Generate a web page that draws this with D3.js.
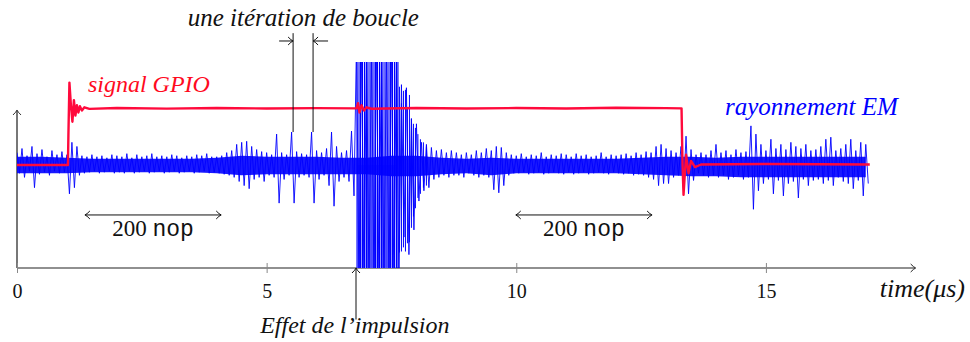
<!DOCTYPE html>
<html>
<head>
<meta charset="utf-8">
<script src="https://cdn.jsdelivr.net/npm/d3@7"></script>
<style>
  html, body { margin: 0; padding: 0; background: #fff; }
  svg { display: block; }
</style>
</head>
<body>
<div id="chart"></div>
<script>
// EM radiation trace, sampled every 0.1 us: upper peak then lower peak (arbitrary units)
const emStep = 0.1;
const emHi = [
  12, 16, 9, 18, 11, 15, 8, 14, 10, 13,
  10, 22, 18, 9, 8, 10, 8, 9, 7, 10,
  9, 8, 11, 7, 10, 8, 9, 11, 8, 9,
  8, 10, 9, 7, 9, 8, 10, 9, 11, 8,
  8, 9, 12, 14, 20, 22, 23, 18, 15, 13,
  12, 10, 30, 12, 10, 32, 13, 11, 10, 32,
  14, 12, 16, 32, 18, 12, 14, 33, 120, 120,
  120, 120, 120, 120, 120, 120, 120, 78, 75, 45,
  40, 22, 20, 17, 14, 15, 12, 14, 12, 10,
  12, 10, 14, 12, 16, 14, 18, 17, 12, 10,
  9, 11, 8, 10, 9, 12, 8, 10, 9, 11,
  10, 8, 11, 9, 10, 8, 9, 12, 8, 10,
  9, 10, 11, 9, 12, 10, 13, 12, 18, 20,
  16, 14, 12, 18, 28, 15, 10, 12, 10, 14,
  20, 12, 14, 10, 15, 12, 13, 38, 30, 20,
  14, 25, 16, 20, 15, 22, 18, 16, 20, 14,
  15, 18, 25, 27, 14, 16, 20, 25, 14, 22,
  20
];
const emLo = [
  -8, -12, -6, -22, -9, -7, -10, -6, -8, -7,
  -28, -22, -10, -8, -7, -6, -8, -7, -6, -8,
  -7, -8, -6, -8, -7, -6, -8, -7, -6, -8,
  -7, -6, -8, -7, -6, -8, -7, -6, -8, -7,
  -8, -9, -10, -12, -16, -20, -23, -14, -12, -16,
  -10, -12, -37, -14, -10, -37, -12, -10, -12, -37,
  -14, -10, -20, -40, -16, -12, -16, -30, -120, -120,
  -120, -120, -120, -120, -120, -120, -120, -70, -87, -63,
  -35, -25, -22, -14, -12, -10, -12, -10, -10, -12,
  -8, -10, -12, -10, -12, -24, -27, -20, -10, -8,
  -8, -7, -9, -8, -7, -9, -8, -7, -8, -9,
  -7, -9, -8, -7, -9, -8, -7, -8, -9, -7,
  -8, -9, -8, -10, -9, -10, -12, -14, -20, -18,
  -18, -12, -10, -25, -28, -15, -8, -10, -12, -10,
  -12, -10, -14, -12, -10, -14, -12, -43, -25, -18,
  -14, -28, -15, -30, -18, -16, -32, -14, -20, -15,
  -14, -18, -15, -20, -12, -16, -18, -23, -15, -30,
  -18
];

// dense noise band of the EM trace, every 0.5 us
const coreStep = 0.5;
const coreHi = [8, 8, 7, 6, 6, 6, 6, 6, 7, 9, 8, 8, 8, 7, 7, 9, 9, 7, 6, 7, 6, 6, 6, 6, 6, 7, 8, 8, 7, 8, 8, 8, 8, 8, 8];
const coreLo = [-8, -8, -8, -7, -7, -7, -7, -7, -8, -10, -9, -9, -9, -9, -9, -11, -11, -9, -8, -10, -8, -8, -8, -8, -8, -9, -10, -11, -11, -12, -12, -12, -12, -12, -12];

// saturated burst caused by the pulse (us)
const burstTimes = [6.81, 6.85, 6.88, 6.92, 6.96, 7.0, 7.03, 7.07, 7.11, 7.15, 7.18, 7.22,
  7.26, 7.3, 7.33, 7.37, 7.41, 7.45, 7.48, 7.52, 7.56, 7.6, 7.63];
const burstLight = [6.81, 7.58];
// decaying ringing right after the burst [time us, top, bottom]
const burstTail = [
  [7.66, 76, -85], [7.7, 60, -84], [7.74, 72, -80], [7.78, 73, -84], [7.82, 55, -76],
  [7.86, 68, -75], [7.9, 45, -61], [7.94, 40, -50], [7.98, 36, -42], [8.03, 30, -32],
  [8.08, 25, -28], [8.14, 22, -22], [8.2, 18, -20]
];

// GPIO signal breakpoints [time us, level]
const gpio = [
  [0, 0], [1.02, 0], [1.03, 30], [1.05, 80], [1.08, 58], [1.11, 42], [1.14, 63],
  [1.17, 48], [1.2, 58], [1.23, 51], [1.26, 57], [1.3, 53], [1.35, 56], [1.45, 54.5],
  [2, 55.3], [3, 54.7], [4, 55.4], [5, 54.8], [6, 55.2], [6.8, 55], [6.83, 60],
  [6.86, 51], [6.9, 58], [6.95, 53], [7.0, 56], [7.1, 54.6], [8, 55.4], [9, 54.8],
  [10, 55.3], [11, 54.9], [12, 55.6], [13, 55.2], [13.31, 55], [13.33, 0], [13.35, -29],
  [13.4, 10], [13.45, -8], [13.5, 4], [13.58, -2], [13.7, 0.5], [15, 1], [17.08, 0.5]
];

const xTicks = [0, 5, 10, 15];
const nopSpans = [[1.36, 4.09], [9.99, 12.72]];
const loopMarks = [5.53, 5.93];
const impulseTime = 6.79;

const SERIF = "Liberation Serif, serif";
const MONO = "Liberation Mono, monospace";

const W = 970, H = 342;
const x = d3.scaleLinear().domain([0, 18]).range([17, 915.7]);
const y = d3.scaleLinear().domain([-100, 100]).range([268, 62]);

const svg = d3.select('#chart').append('svg')
  .attr('width', W).attr('height', H);

svg.append('defs').append('clipPath').attr('id', 'plotclip')
  .append('rect')
  .attr('x', x(0)).attr('y', y(100))
  .attr('width', x(18) - x(0)).attr('height', y(-100) - y(100));

// small LaTeX-like arrow head, tip at (px,py)
function head(g, px, py, angle, color) {
  g.append('path')
    .attr('d', 'M-5,-4 Q-2,-0.8 0,0 Q-2,0.8 -5,4')
    .attr('transform', `translate(${px},${py}) rotate(${angle})`)
    .attr('fill', 'none')
    .attr('stroke', color)
    .attr('stroke-width', 1);
}

// axes
const axisG = svg.append('g');
axisG.append('line')
  .attr('x1', x(0)).attr('x2', x(18) - 1)
  .attr('y1', y(-100)).attr('y2', y(-100))
  .attr('stroke', '#222').attr('stroke-width', 1.1);
head(axisG, x(18), y(-100), 0, '#222');
axisG.append('line')
  .attr('x1', x(0)).attr('x2', x(0))
  .attr('y1', y(-100)).attr('y2', y(53.4) + 1)
  .attr('stroke', '#555').attr('stroke-width', 1.6);
head(axisG, x(0), y(53.4), -90, '#333');

const xAxis = svg.append('g')
  .attr('transform', `translate(0,${y(-100)})`)
  .call(d3.axisBottom(x).tickValues(xTicks).tickSize(5).tickPadding(11).tickFormat(d3.format('d')));
xAxis.select('.domain').remove();
xAxis.attr('font-family', SERIF).attr('font-size', 20);
xAxis.selectAll('.tick line').attr('y1', -5).attr('y2', 5).attr('stroke', '#888');
xAxis.selectAll('.tick text')
  .style('font-family', SERIF)
  .style('font-size', '20px')
  .attr('fill', '#111');

// EM trace
const emG = svg.append('g').attr('clip-path', 'url(#plotclip)');

emG.append('rect')
  .attr('x', x(burstLight[0])).attr('width', x(burstLight[1]) - x(burstLight[0]))
  .attr('y', y(0)).attr('height', y(-100) - y(0))
  .attr('fill', '#a6a6ff');

emG.append('path')
  .datum(coreHi.map((h, i) => [i * coreStep, h, coreLo[i]]))
  .attr('fill', '#0000ff')
  .attr('opacity', 0.9)
  .attr('d', d3.area().x(d => x(d[0])).y0(d => y(d[2])).y1(d => y(d[1])));

const emPts = [];
emHi.forEach((h, i) => {
  emPts.push([i * emStep, h]);
  emPts.push([i * emStep + emStep / 2, emLo[i]]);
});
const line = d3.line().x(d => x(d[0])).y(d => y(d[1]));
emG.append('path')
  .datum(emPts)
  .attr('fill', 'none')
  .attr('stroke', '#0000ff')
  .attr('stroke-width', 0.9)
  .attr('d', line);

emG.selectAll('line.burst')
  .data(burstTimes)
  .enter()
  .append('line')
  .attr('class', 'burst')
  .attr('x1', d => x(d)).attr('x2', d => x(d))
  .attr('y1', y(100)).attr('y2', y(-100))
  .attr('stroke', '#0000ff')
  .attr('stroke-width', 1.1);

emG.selectAll('line.tail')
  .data(burstTail)
  .enter()
  .append('line')
  .attr('class', 'tail')
  .attr('x1', d => x(d[0])).attr('x2', d => x(d[0]))
  .attr('y1', d => y(d[1])).attr('y2', d => y(d[2]))
  .attr('stroke', '#0000ff')
  .attr('stroke-width', 1);

// GPIO trace
svg.append('path')
  .datum(gpio)
  .attr('fill', 'none')
  .attr('stroke', '#ff0a3c')
  .attr('stroke-width', 2.4)
  .attr('stroke-linejoin', 'round')
  .attr('d', line);

// annotations
const ann = svg.append('g');

nopSpans.forEach(s => {
  ann.append('line')
    .attr('x1', x(s[0]) + 1).attr('x2', x(s[1]) - 1)
    .attr('y1', y(-48.5)).attr('y2', y(-48.5))
    .attr('stroke', '#111').attr('stroke-width', 1);
  head(ann, x(s[0]), y(-48.5), 180, '#111');
  head(ann, x(s[1]), y(-48.5), 0, '#111');
  const t = ann.append('text')
    .attr('x', x((s[0] + s[1]) / 2))
    .attr('y', y(-69))
    .attr('text-anchor', 'middle')
    .style('font-family', SERIF)
    .style('font-size', '23px')
    .attr('fill', '#111');
  t.append('tspan').text('200 ');
  t.append('tspan').style('font-family', MONO).text('nop');
});

loopMarks.forEach(m => {
  ann.append('line')
    .attr('x1', x(m)).attr('x2', x(m))
    .attr('y1', y(128)).attr('y2', y(32))
    .attr('stroke', '#111').attr('stroke-width', 1);
});
ann.append('line')
  .attr('x1', x(5.25)).attr('x2', x(loopMarks[0]) - 1)
  .attr('y1', y(120.4)).attr('y2', y(120.4))
  .attr('stroke', '#111').attr('stroke-width', 1);
head(ann, x(loopMarks[0]), y(120.4), 0, '#111');
ann.append('line')
  .attr('x1', x(6.23)).attr('x2', x(loopMarks[1]) + 1)
  .attr('y1', y(120.4)).attr('y2', y(120.4))
  .attr('stroke', '#111').attr('stroke-width', 1);
head(ann, x(loopMarks[1]), y(120.4), 180, '#111');

ann.append('line')
  .attr('x1', x(impulseTime)).attr('x2', x(impulseTime))
  .attr('y1', y(-150)).attr('y2', y(-100) + 1)
  .attr('stroke', '#111').attr('stroke-width', 1);
head(ann, x(impulseTime), y(-100), -90, '#111');

const labels = [
  { text: 'une itération de boucle', t: 3.42, v: 135, size: 25, color: '#111' },
  { text: 'signal GPIO', t: 1.42, v: 71, size: 24, color: '#ff0a1e' },
  { text: 'rayonnement EM', t: 14.18, v: 48.5, size: 25, color: '#0000ff' },
  { text: 'Effet de l’impulsion', t: 4.87, v: -163.5, size: 24, color: '#111' },
  { text: 'time(μs)', t: 17.28, v: -128, size: 26, color: '#111' }
];
ann.selectAll('text.lbl')
  .data(labels)
  .enter()
  .append('text')
  .attr('class', 'lbl')
  .attr('x', d => x(d.t))
  .attr('y', d => y(d.v))
  .style('font-family', SERIF)
  .style('font-style', 'italic')
  .style('font-size', d => d.size + 'px')
  .attr('fill', d => d.color)
  .text(d => d.text);
</script>
</body>
</html>
